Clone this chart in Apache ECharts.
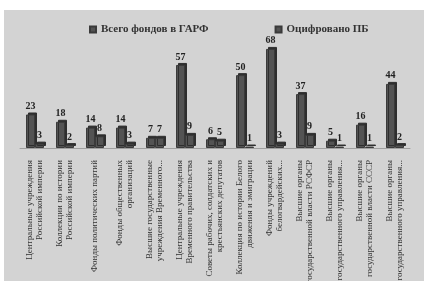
<!DOCTYPE html>
<html>
<head>
<meta charset="utf-8">
<script src="https://cdn.jsdelivr.net/npm/echarts@6/dist/echarts.min.js"></script>
<style>
  html, body { margin: 0; padding: 0; background: #fff; }
  #chart { position: absolute; left: 4px; top: 10px; width: 420px; height: 271px; }
</style>
</head>
<body>
<div id="chart"></div>
<script>
// categories and values
const categories = [
  'Центральные учреждения\nРоссийской империи',
  'Коллекции по истории\nРоссийской империи',
  'Фонды политических партий',
  'Фонды общественных\nорганизаций',
  'Высшие государственные\nучреждения Временного...',
  'Центральные учреждения\nВременного правительства',
  'Советы рабочих, солдатских и\nкрестьянских депутатов',
  'Коллекция по истории Белого\nдвижения и эмиграции',
  'Фонды учреждений\nбелогвардейских...',
  'Высшие органы\nгосударственной власти РСФСР',
  'Высшие органы\nгосударственного управления...',
  'Высшие органы\nгосударственной власти СССР',
  'Высшие органы\nгосударственного управления...'
];
const totalFunds = [23, 18, 14, 14, 7, 57, 6, 50, 68, 37, 5, 16, 44];
const digitized = [3, 2, 8, 3, 7, 9, 5, 1, 3, 9, 1, 1, 2];
const seriesNames = ['Всего фондов в ГАРФ', 'Оцифровано ПБ'];

const serif = '"Liberation Serif", "DejaVu Serif", serif';
const chart = echarts.init(document.getElementById('chart'));

// 3D-ish bar look: dark face with darker offset side
const barStyle = {
  color: '#535353',
  borderColor: '#3a3a3a',
  borderWidth: 1,
  shadowColor: '#2e2e2e',
  shadowOffsetX: 2,
  shadowOffsetY: -2,
  shadowBlur: 0
};
const labelStyle = {
  show: true,
  position: 'top',
  distance: 3,
  fontFamily: serif,
  fontWeight: 'bold',
  fontSize: 10,
  color: '#222'
};

chart.setOption({
  backgroundColor: '#d3d3d3',
  animation: false,
  legend: {
    top: 9,
    left: 80,
    itemGap: 66,
    itemWidth: 6,
    itemHeight: 6,
    icon: 'rect',
    textStyle: { fontFamily: serif, fontWeight: 'bold', fontSize: 11, color: '#333' },
    data: seriesNames
  },
  grid: { left: 16, right: 14, top: 36, bottom: 133, outerBoundsMode: 'none' },
  xAxis: {
    type: 'category',
    data: categories,
    axisLine: { lineStyle: { color: '#a0a0a0', width: 1 } },
    axisTick: { show: false },
    axisLabel: {
      interval: 0,
      rotate: 90,
      margin: 12,
      fontFamily: serif,
      fontSize: 9,
      lineHeight: 10,
      color: '#333'
    }
  },
  yAxis: {
    type: 'value',
    min: 0,
    max: 70,
    show: false,
    splitLine: { show: false }
  },
  series: [
    {
      name: seriesNames[0],
      type: 'bar',
      data: totalFunds,
      barWidth: 9,
      barGap: '0%',
      itemStyle: barStyle,
      label: labelStyle
    },
    {
      name: seriesNames[1],
      type: 'bar',
      data: digitized,
      barWidth: 9,
      itemStyle: barStyle,
      label: labelStyle
    }
  ]
});
</script>
</body>
</html>
